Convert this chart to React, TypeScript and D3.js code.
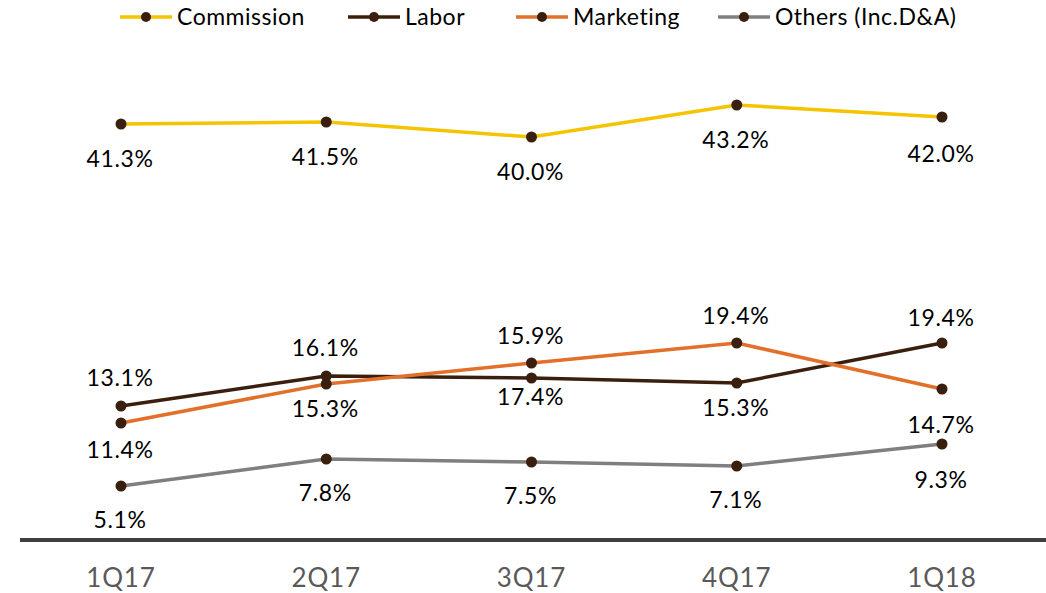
import React from "react";
import * as d3 from "d3";

const categories = ["1Q17", "2Q17", "3Q17", "4Q17", "1Q18"];
const commission = [41.3, 41.5, 40.0, 43.2, 42.0];
const labor = [13.1, 16.1, 15.9, 15.4, 19.4];
const marketing = [11.4, 15.3, 17.4, 19.4, 14.8];
const others = [5.1, 7.8, 7.5, 7.1, 9.3];

const commissionLabels = ["41.3%", "41.5%", "40.0%", "43.2%", "42.0%"];
const laborLabels = ["13.1%", "16.1%", "17.4%", "15.3%", "19.4%"];
const marketingLabels = ["11.4%", "15.3%", "15.9%", "19.4%", "14.7%"];
const othersLabels = ["5.1%", "7.8%", "7.5%", "7.1%", "9.3%"];

// label offsets (px, relative to point): positive = below
const commissionOff = [35, 35, 35, 35, 37];
const laborOff = [-28, -28, 19, 25, -25];
const marketingOff = [27, 25, -27, -27, 36];
const othersOff = [34, 34, 34, 34, 36];

const W = 1046;
const H = 593;
const FONT = "Lato, 'Open Sans', sans-serif";

const series = [
  { name: "Commission", color: "#F5C400", values: commission, labels: commissionLabels, off: commissionOff },
  { name: "Labor", color: "#3B1F0E", values: labor, labels: laborLabels, off: laborOff },
  { name: "Marketing", color: "#E2702A", values: marketing, labels: marketingLabels, off: marketingOff },
  { name: "Others (Inc.D&A)", color: "#7F7F7F", values: others, labels: othersLabels, off: othersOff },
];

const legendX = [120, 348, 516, 718];

export default function App() {
  const x = d3.scalePoint<string>().domain(categories).range([121, 942]);
  const y = d3.scaleLinear().domain([0, 50]).range([537, 37]);
  const line = d3
    .line<number>()
    .x((_, i) => x(categories[i]) as number)
    .y((d) => y(d));
  const dot = "#3A1F0E";

  return (
    <svg width={W} height={H} style={{ position: "absolute", left: 0, top: 0 }}>
      <rect width={W} height={H} fill="#fff" />
      {/* legend */}
      {series.map((s, i) => (
        <g key={s.name} transform={`translate(${legendX[i]},17)`}>
          <line x1={0} x2={52} y1={0} y2={0} stroke={s.color} strokeWidth={3.5} />
          <circle cx={26} cy={0} r={5} fill={dot} />
          <text x={57} y={0} dy="0.35em" fontFamily={FONT} fontSize={23} letterSpacing={0.5} fill="#000">
            {s.name}
          </text>
        </g>
      ))}
      {/* axis */}
      <line x1={20} x2={W} y1={540} y2={540} stroke="#404040" strokeWidth={4} />
      {categories.map((c) => (
        <text
          key={c}
          x={x(c)}
          y={578}
          dy="0.35em"
          textAnchor="middle"
          fontFamily={FONT}
          fontSize={26}
          letterSpacing={0.8}
          fill="#595959"
        >
          {c}
        </text>
      ))}
      {/* lines */}
      {series.map((s) => (
        <path key={s.name} d={line(s.values) || ""} fill="none" stroke={s.color} strokeWidth={3.5} />
      ))}
      {series.map((s) =>
        s.values.map((v, i) => (
          <circle key={s.name + i} cx={x(categories[i])} cy={y(v)} r={5.5} fill={dot} />
        ))
      )}
      {series.map((s) =>
        s.values.map((v, i) => (
          <text
            key={"t" + s.name + i}
            x={(x(categories[i]) as number) - 1}
            y={y(v) + s.off[i]}
            dy="0.35em"
            textAnchor="middle"
            fontFamily={FONT}
            fontSize={23}
            letterSpacing={0.6}
            fill="#000"
          >
            {s.labels[i]}
          </text>
        ))
      )}
    </svg>
  );
}
